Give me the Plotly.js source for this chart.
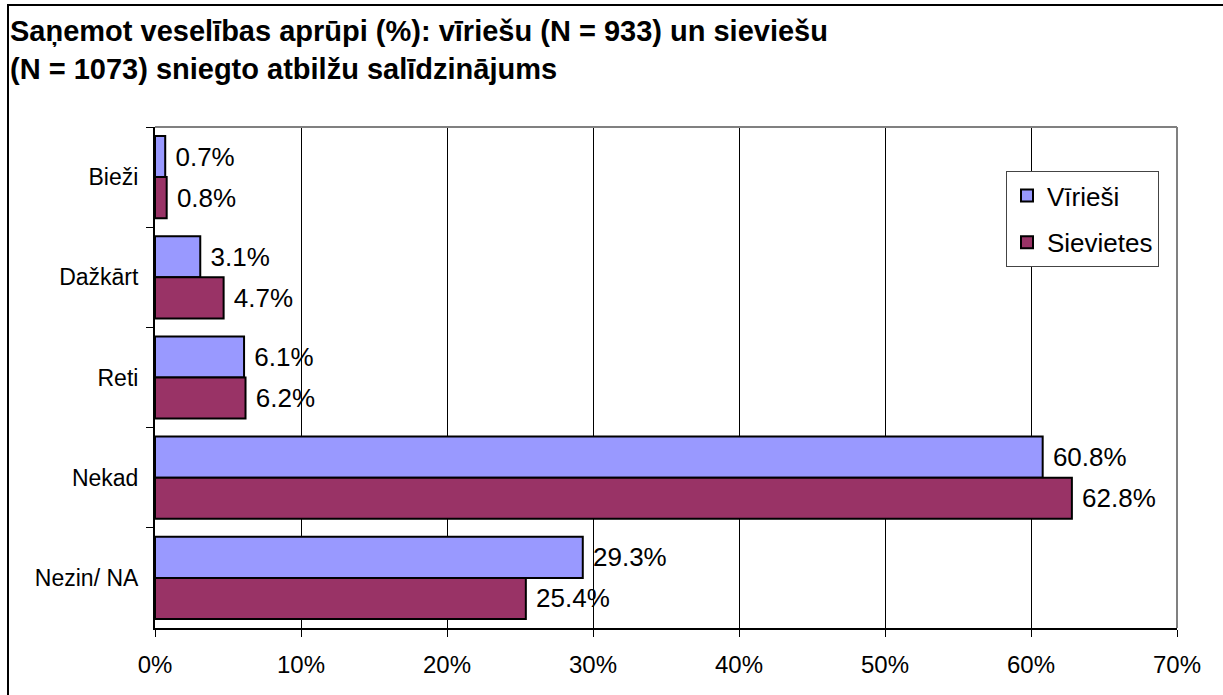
<!DOCTYPE html>
<html>
<head>
<meta charset="utf-8">
<script src="https://cdn.plot.ly/plotly-3.0.1.min.js"></script>
<style>body{margin:0;padding:0;background:#fff;} #chart{width:1223px;height:695px;}</style>
</head>
<body>
<div id="chart"></div>
<script>
const categories = ["Bieži", "Dažkārt", "Reti", "Nekad", "Nezin/ NA"];
const men = [0.7, 3.1, 6.1, 60.8, 29.3];
const women = [0.8, 4.7, 6.2, 62.8, 25.4];
const seriesNames = ["Vīrieši", "Sievietes"];
const xTickVals = [0, 10, 20, 30, 40, 50, 60, 70];
const xTickText = ["0%", "10%", "20%", "30%", "40%", "50%", "60%", "70%"];
const titleText = "Saņemot veselības aprūpi (%): vīriešu (N = 933) un sieviešu<br>(N = 1073) sniegto atbilžu salīdzinājums";

const W = 1223, H = 695;
const L = 155, R = 1177, T = 127, B = 628;
const pw = R - L, ph = B - T;
const px = v => (v - L) / pw;
const py = v => (B - v) / ph;

const FONT = "Liberation Sans, Arial, sans-serif";

function barTrace(name, vals, color, grp) {
  return {
    type: "bar",
    orientation: "h",
    name: name,
    legendgroup: grp,
    y: categories,
    x: vals,
    text: vals.map(v => "\u00a0" + v.toFixed(1) + "%"),
    textposition: "outside",
    textfont: {family: FONT, size: 26, color: "#000"},
    constraintext: "none",
    cliponaxis: false,
    marker: {color: color, line: {color: "#000", width: 2}},
    hoverinfo: "none"
  };
}

const data = [
  barTrace(seriesNames[0], men, "#9999FF", "g1"),
  barTrace(seriesNames[1], women, "#993366", "g2")
];

const layout = {
  width: W, height: H,
  margin: {l: L, r: W - R, t: T, b: H - B, pad: 0},
  paper_bgcolor: "#fff",
  plot_bgcolor: "#fff",
  font: {family: FONT, color: "#000"},
  showlegend: true,
  barmode: "group",
  bargap: 0.18,
  bargroupgap: 0,
  title: {
    text: titleText,
    font: {family: FONT, size: 29, color: "#000", weight: "bold"},
    xref: "container", x: 10 / W, xanchor: "left",
    yref: "container", y: 1 - 41 / H, yanchor: "top"
  },
  xaxis: {
    range: [0, 70],
    tickvals: xTickVals,
    ticktext: xTickText,
    tickfont: {family: FONT, size: 24, color: "#000"},
    ticks: "outside", ticklen: 7, tickwidth: 1, tickcolor: "#000",
    ticklabelstandoff: 7,
    showgrid: true, gridcolor: "#000", gridwidth: 1,
    zeroline: false,
    showline: true, linecolor: "#000", linewidth: 2,
    fixedrange: true
  },
  yaxis: {
    type: "category",
    autorange: "reversed",
    tickfont: {family: FONT, size: 23, color: "#000"},
    ticks: "outside", ticklen: 7, tickwidth: 1, tickcolor: "#000",
    tickson: "boundaries",
    ticklabelstandoff: 10,
    showgrid: false, zeroline: false,
    showline: true, linecolor: "#000", linewidth: 2,
    fixedrange: true
  },
  legend: {
    x: px(1006), y: py(171), xanchor: "left", yanchor: "top",
    bgcolor: "#fff", bordercolor: "#444", borderwidth: 1,
    font: {family: FONT, size: 26, color: "#000"},
    traceorder: "grouped",
    tracegroupgap: 10,
    itemwidth: 30
  },
  shapes: [
    {type: "line", xref: "paper", yref: "paper", x0: 0, x1: 1, y0: 1, y1: 1, line: {color: "#808080", width: 2}},
    {type: "line", xref: "paper", yref: "paper", x0: 1, x1: 1, y0: 0, y1: 1, line: {color: "#808080", width: 2}},
    {type: "rect", xref: "paper", yref: "paper", x0: px(8), x1: px(1226), y0: py(698), y1: py(5), line: {color: "#000", width: 2}, fillcolor: "rgba(0,0,0,0)", layer: "below"}
  ]
};

Plotly.newPlot("chart", data, layout, {staticPlot: true, displayModeBar: false});
</script>
</body>
</html>
